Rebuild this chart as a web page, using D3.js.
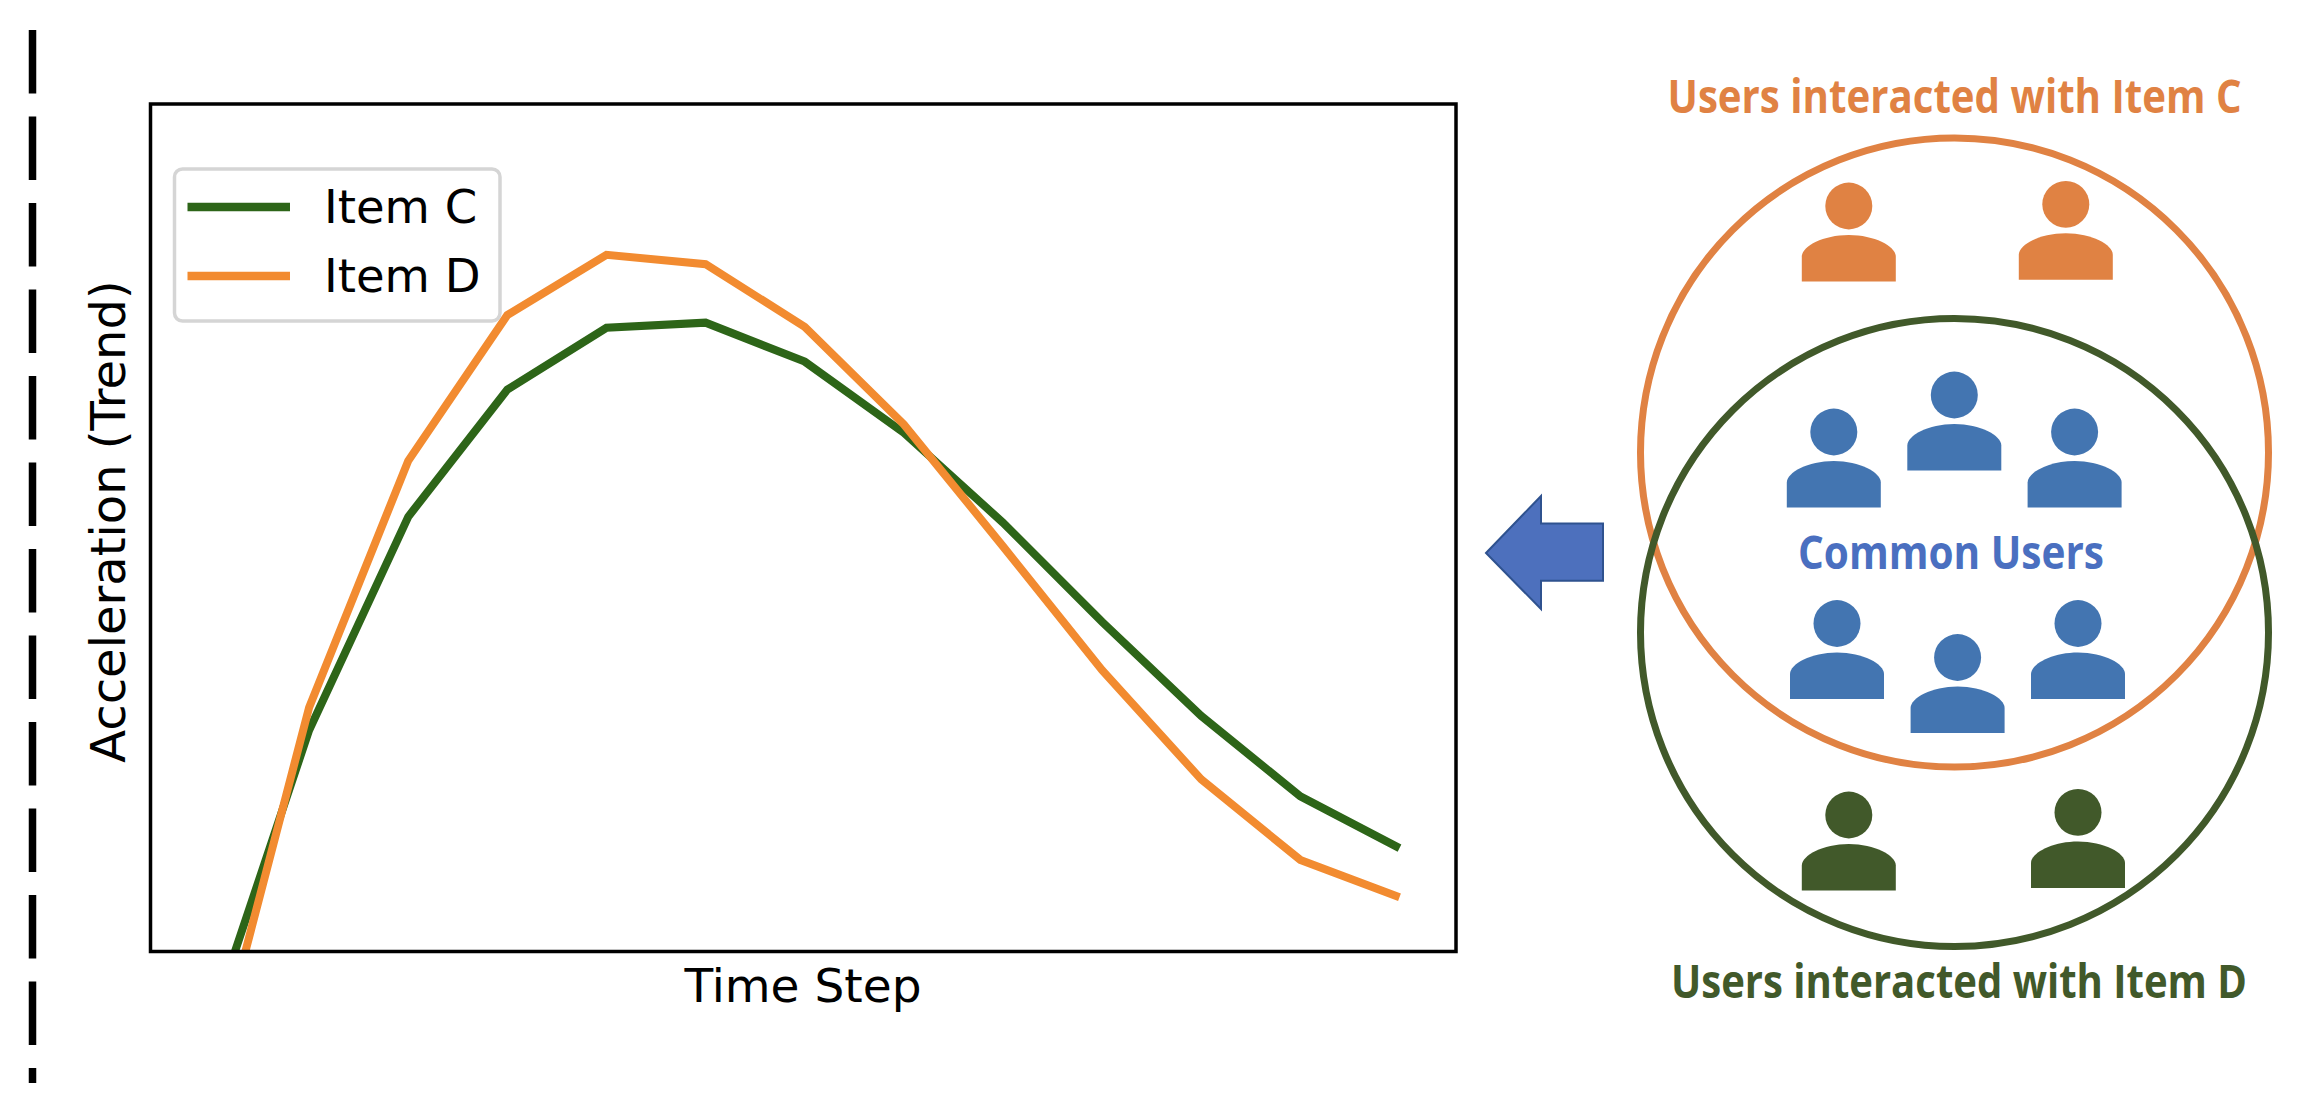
<!DOCTYPE html>
<html><head><meta charset="utf-8">
<script src="https://cdn.jsdelivr.net/npm/d3@7"></script>
<style>html,body{margin:0;padding:0;background:#fff;overflow:hidden}svg{display:block}</style>
</head><body><div id="c"></div>
<script>
// chart values (arbitrary units, the y axis has no ticks)
const timeSteps = [0,1,2,3,4,5,6,7,8,9,10,11,12];
const itemC = [-8.8,26.1,51.3,66.3,73.6,74.2,69.6,61.2,50.6,38.9,27.8,18.3,12.2];
const itemD = [-16,28.8,57.9,75.1,82.2,81.1,73.7,62.2,47.8,33.2,20.3,10.8,6.4];
const seriesNames = ["Item C","Item D"];
const xLabel = "Time Step", yLabel = "Acceleration (Trend)";
// diagram content: column = head centre, foot = bottom edge of the figure
const userGroups = ["onlyC","common","onlyD"];
const userColumns = {onlyC:[1848.8,2065.8],common:[1833.8,1954.3,2074.6,1837,1957.6,2078],onlyD:[1848.8,2078]};
const userFeet = {onlyC:[281.5,279.8],common:[507.5,470.5,507.5,699,733,699],onlyD:[890.5,887.9]};
const captionC="Users interacted with Item C", captionD="Users interacted with Item D", captionCommon="Common Users";

const W=2316,H=1106;
const frame={l:150.5,r:1456,t:104,b:951.5};
const colors={C:"#2d6518",D:"#f28b30",oc:"#e08243",og:"#41592a",blue:"#4375b1",text:"#4a6fc0"};
const svg=d3.select("#c").append("svg").attr("width",W).attr("height",H).attr("viewBox",`0 0 ${W} ${H}`);
svg.append("rect").attr("width",W).attr("height",H).attr("fill","#fff");

// divider
svg.append("line").attr("x1",32.5).attr("x2",32.5).attr("y1",30).attr("y2",1083)
  .attr("stroke","#000").attr("stroke-width",7.5).attr("stroke-dasharray","63.5 23");

// chart
const x=d3.scaleLinear().domain([-0.6,12.57]).range([frame.l,frame.r]);
const y=d3.scaleLinear().domain([0,100]).range([frame.b,frame.t]);
svg.append("clipPath").attr("id","plot").append("rect")
  .attr("x",frame.l).attr("y",frame.t).attr("width",frame.r-frame.l).attr("height",frame.b-frame.t);
const line=d3.line().x((d,i)=>x(timeSteps[i])).y(d=>y(d));
const plot=svg.append("g").attr("clip-path","url(#plot)");
[[itemC,colors.C],[itemD,colors.D]].forEach(([s,c])=>{
  plot.append("path").datum(s).attr("d",line).attr("fill","none").attr("stroke",c)
    .attr("stroke-width",8).attr("stroke-linejoin","miter");
});
svg.append("g").attr("transform",`translate(0,${frame.b})`).call(d3.axisBottom(x).tickValues([]).tickSize(0)).select(".domain").attr("stroke","none");
svg.append("g").attr("transform",`translate(${frame.l},0)`).call(d3.axisLeft(y).tickValues([]).tickSize(0)).select(".domain").attr("stroke","none");
svg.append("rect").attr("x",frame.l).attr("y",frame.t).attr("width",frame.r-frame.l).attr("height",frame.b-frame.t)
  .attr("fill","none").attr("stroke","#000").attr("stroke-width",3.5);

const sans='"DejaVu Sans"';
svg.append("text").attr("x",803).attr("y",1002).attr("text-anchor","middle")
  .attr("font-family",sans).attr("font-size",47).attr("fill","#000").text(xLabel);
svg.append("text").attr("transform","translate(125,521.5) rotate(-90)").attr("text-anchor","middle")
  .attr("font-family",sans).attr("font-size",48).attr("fill","#000").text(yLabel);

// legend
svg.append("rect").attr("x",174.5).attr("y",169).attr("width",325.5).attr("height",152).attr("rx",8)
  .attr("fill","#fff").attr("fill-opacity",.8).attr("stroke","#d5d5d5").attr("stroke-width",3.5);
const legend=svg.selectAll(".lg").data(seriesNames).join("g").attr("class","lg");
legend.append("line").attr("x1",187.5).attr("x2",290).attr("y1",(d,i)=>207+i*69).attr("y2",(d,i)=>207+i*69)
  .attr("stroke",(d,i)=>i?colors.D:colors.C).attr("stroke-width",8.5);
legend.append("text").attr("x",324).attr("y",(d,i)=>223+i*69).attr("font-family",sans).attr("font-size",46.5).attr("fill","#000").text(d=>d);

// arrow
svg.append("path").attr("d","M1486,553L1541,496V523.5H1603V580.8H1541V609Z")
  .attr("fill","#4d70bd").attr("stroke","#2f528f").attr("stroke-width",2);

// circles
const cx=1954.5;
svg.append("ellipse").attr("cx",cx).attr("cy",452.5).attr("rx",314).attr("ry",314.5)
  .attr("fill","none").attr("stroke",colors.oc).attr("stroke-width",7);
svg.append("ellipse").attr("cx",cx).attr("cy",632.5).attr("rx",314).attr("ry",314)
  .attr("fill","none").attr("stroke",colors.og).attr("stroke-width",7);

// user figures
const groupColor={onlyC:colors.oc,common:colors.blue,onlyD:colors.og};
userGroups.forEach(g=>{
  const people=userColumns[g].map((c,i)=>({c,f:userFeet[g][i]}));
  const p=svg.append("g").selectAll("g").data(people).join("g")
    .attr("transform",d=>`translate(${d.c},${d.f})`).attr("fill",groupColor[g]);
  p.append("ellipse").attr("cy",-75.5).attr("rx",23.5).attr("ry",23.4);
  p.append("path").attr("d","M-47,0V-25C-47,-35 -26,-46.5 0,-46.5C26,-46.5 47,-35 47,-25V0Z");
});

// captions
const bold='"Open Sans"';
function cap(t,xc,yb,w,c){
  svg.append("text").attr("x",xc).attr("y",yb).attr("text-anchor","middle")
   .attr("font-family",bold).attr("font-weight",700).attr("font-size",46).attr("fill",c)
   .attr("textLength",w).attr("lengthAdjust","spacingAndGlyphs").text(t);
}
cap(captionC,1954.5,113,574,colors.oc);
cap(captionD,1959,998,576,colors.og);
cap(captionCommon,1951,569,306,colors.text);
</script></body></html>
